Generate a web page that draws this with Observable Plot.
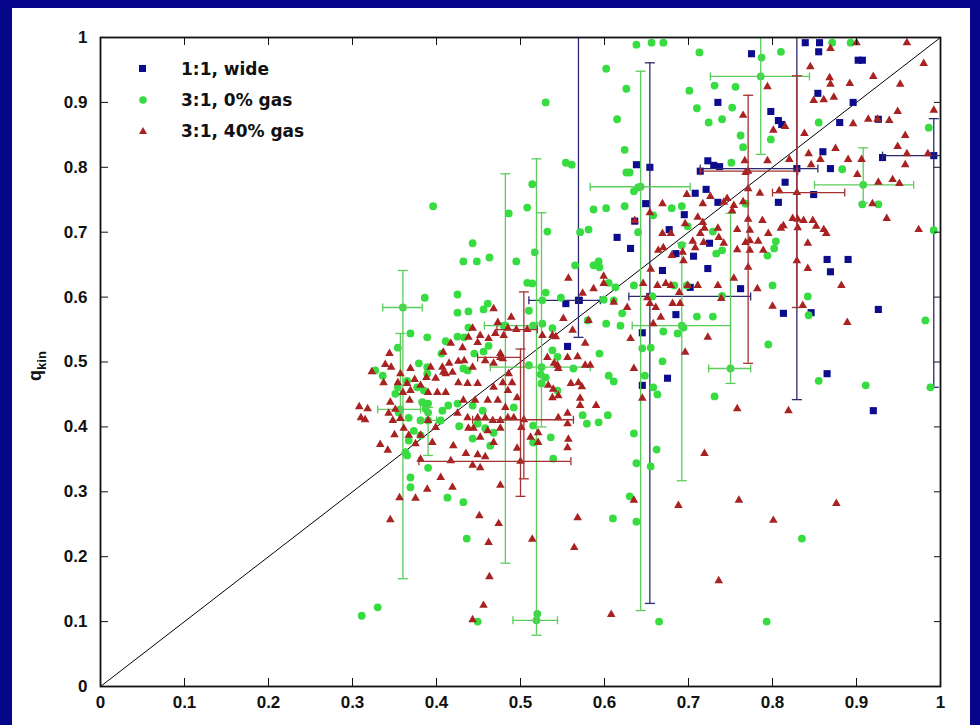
<!DOCTYPE html>
<html><head><meta charset="utf-8">
<script src="https://cdn.jsdelivr.net/npm/d3@7"></script>
<script src="https://cdn.jsdelivr.net/npm/@observablehq/plot@0.6"></script>
<style>
html,body{margin:0;padding:0;}
body{background:#06068a;width:980px;height:725px;overflow:hidden;position:relative;}
#panel{position:absolute;left:12px;top:8px;width:958px;height:717px;background:#fff;}
#legend{position:absolute;left:126px;top:46px;font:bold 17px 'DejaVu Sans',sans-serif;color:#111;}
#legend .row{position:relative;height:31px;line-height:31px;}
#legend svg{position:absolute;left:0;top:9px;}
#legend span{position:absolute;left:43px;top:0;white-space:nowrap;}
#ylab{position:absolute;left:25px;top:358px;transform:translate(-50%,-50%) rotate(-90deg);font:bold 18px 'Liberation Sans',Arial,sans-serif;white-space:nowrap;color:#111;}
#ylab sub{font-size:13px;}
</style></head>
<body><div id="panel"></div>
<script>
// ---- data ----
const xTicks = [0,0.1,0.2,0.3,0.4,0.5,0.6,0.7,0.8,0.9,1];
const yTicks = [0,0.1,0.2,0.3,0.4,0.5,0.6,0.7,0.8,0.9,1];
const seriesNames = ["1:1, wide", "3:1, 0% gas", "3:1, 40% gas"];
const diag = [0, 1];

const bluePts = [[0.839,0.992],[0.856,0.992],[0.775,0.975],[0.855,0.978],[0.902,0.965],[0.907,0.965],[0.854,0.914],[0.896,0.900],[0.735,0.900],[0.798,0.886],[0.807,0.872],[0.811,0.866],[0.880,0.869],[0.926,0.874],[0.860,0.824],[0.931,0.815],[0.723,0.810],[0.730,0.803],[0.737,0.801],[0.869,0.798],[0.638,0.804],[0.654,0.800],[0.714,0.794],[0.815,0.777],[0.708,0.760],[0.721,0.766],[0.849,0.758],[0.807,0.746],[0.649,0.744],[0.735,0.746],[0.695,0.727],[0.636,0.717],[0.677,0.704],[0.615,0.692],[0.631,0.675],[0.685,0.667],[0.706,0.663],[0.725,0.683],[0.723,0.644],[0.669,0.641],[0.762,0.613],[0.702,0.615],[0.865,0.658],[0.890,0.658],[0.869,0.639],[0.554,0.590],[0.570,0.595],[0.813,0.575],[0.846,0.576],[0.685,0.573],[0.926,0.581],[0.556,0.524],[0.645,0.545],[0.645,0.464],[0.675,0.475],[0.865,0.482],[0.920,0.425]];

const greenPts = [[0.530,0.900],[0.396,0.740],[0.514,0.774],[0.508,0.738],[0.486,0.729],[0.532,0.701],[0.443,0.683],
[0.432,0.655],[0.448,0.655],[0.463,0.661],[0.495,0.655],[0.517,0.669],[0.386,0.599],[0.425,0.604],[0.425,0.576],[0.438,0.578],[0.456,0.581],[0.461,0.590],[0.508,0.622],[0.514,0.621],[0.530,0.607],[0.510,0.579],[0.526,0.595],[0.580,0.564],[0.538,0.552],[0.526,0.559],[0.515,0.556],[0.538,0.518],[0.544,0.508],[0.510,0.495],[0.524,0.481],[0.530,0.476],[0.544,0.456],[0.525,0.467],[0.515,0.402],[0.536,0.384],[0.515,0.376],[0.369,0.307],[0.413,0.291],[0.539,0.351],
[0.369,0.544],[0.389,0.538],[0.411,0.532],[0.425,0.539],[0.433,0.538],[0.438,0.553],[0.456,0.516],[0.462,0.525],[0.354,0.522],[0.406,0.513],[0.379,0.498],[0.389,0.492],[0.389,0.482],[0.432,0.490],[0.437,0.487],[0.327,0.487],[0.354,0.461],[0.351,0.451],[0.365,0.471],[0.377,0.461],[0.385,0.456],[0.383,0.438],[0.390,0.436],[0.387,0.428],[0.390,0.422],[0.407,0.425],[0.414,0.433],[0.425,0.436],[0.443,0.433],[0.455,0.425],[0.355,0.422],[0.367,0.414],[0.381,0.410],[0.405,0.410],[0.427,0.401],[0.449,0.405],[0.458,0.398],[0.468,0.391],[0.492,0.430],[0.373,0.394],[0.381,0.387],[0.367,0.379],[0.363,0.361],[0.365,0.356],[0.443,0.382],[0.464,0.371],[0.390,0.337],[0.369,0.322],[0.480,0.556],[0.445,0.513],[0.336,0.479],
[0.432,0.284],[0.436,0.228],[0.311,0.109],[0.330,0.122],[0.449,0.100],[0.520,0.112],
[0.638,0.989],[0.656,0.992],[0.670,0.992],[0.713,0.977],[0.810,0.978],[0.787,0.969],[0.871,0.992],[0.893,0.992],[0.602,0.952],[0.626,0.921],[0.701,0.918],[0.731,0.926],[0.756,0.924],[0.710,0.891],[0.752,0.892],[0.615,0.874],[0.724,0.869],[0.740,0.874],[0.762,0.849],[0.765,0.831],[0.798,0.843],[0.624,0.827],[0.554,0.807],[0.561,0.804],[0.626,0.792],[0.630,0.792],[0.751,0.807],[0.635,0.763],[0.640,0.769],[0.587,0.735],[0.602,0.737],[0.624,0.740],[0.680,0.737],[0.692,0.740],[0.768,0.744],[0.571,0.700],[0.581,0.704],[0.640,0.700],[0.699,0.709],[0.729,0.701],[0.658,0.726],[0.804,0.686],[0.802,0.675],[0.794,0.664],[0.740,0.672],[0.733,0.667],[0.692,0.680],[0.565,0.649],[0.587,0.649],[0.593,0.655],[0.594,0.646],[0.605,0.622],[0.613,0.615],[0.635,0.618],[0.683,0.618],[0.698,0.618],[0.800,0.618],[0.740,0.602],[0.842,0.601],[0.657,0.601],[0.611,0.595],[0.599,0.596],[0.855,0.869],[0.883,0.797],[0.907,0.743],[0.926,0.743],[0.986,0.861],[0.992,0.703],[0.548,0.599],[0.843,0.572],
[0.563,0.490],[0.604,0.418],[0.593,0.407],[0.579,0.405],[0.574,0.418],[0.605,0.479],[0.611,0.470],[0.594,0.513],[0.619,0.556],[0.602,0.559],[0.670,0.547],[0.687,0.544],[0.694,0.553],[0.710,0.570],[0.729,0.570],[0.621,0.575],[0.645,0.521],[0.655,0.522],[0.669,0.501],[0.648,0.479],[0.658,0.461],[0.663,0.450],[0.731,0.447],[0.795,0.527],[0.855,0.471],[0.911,0.464],[0.982,0.564],[0.988,0.461],[0.635,0.390],[0.638,0.344],[0.655,0.339],[0.662,0.365],[0.630,0.293],[0.610,0.259],[0.638,0.254],[0.835,0.228],[0.665,0.100],[0.793,0.100]];

const redPts = [[0.323,0.485],[0.344,0.513],[0.339,0.496],[0.346,0.492],[0.337,0.468],[0.357,0.482],[0.369,0.490],[0.354,0.468],[0.365,0.467],[0.374,0.473],[0.381,0.464],[0.388,0.476],[0.399,0.475],[0.393,0.492],[0.407,0.492],[0.415,0.498],[0.408,0.484],[0.419,0.484],[0.426,0.501],[0.433,0.502],[0.443,0.492],[0.437,0.467],[0.449,0.467],[0.426,0.468],[0.401,0.453],[0.411,0.453],[0.390,0.453],[0.369,0.456],[0.360,0.453],[0.368,0.441],[0.345,0.438],[0.351,0.427],[0.357,0.413],[0.343,0.421],[0.348,0.410],[0.361,0.398],[0.350,0.388],[0.367,0.387],[0.375,0.374],[0.333,0.373],[0.342,0.364],[0.308,0.431],[0.318,0.428],[0.310,0.414],[0.315,0.411],[0.390,0.410],[0.399,0.399],[0.381,0.387],[0.395,0.376],[0.425,0.421],[0.437,0.414],[0.449,0.414],[0.458,0.414],[0.467,0.410],[0.476,0.410],[0.485,0.414],[0.492,0.414],[0.438,0.398],[0.444,0.398],[0.461,0.394],[0.476,0.398],[0.452,0.384],[0.468,0.376],[0.420,0.371],[0.435,0.359],[0.449,0.357],[0.458,0.354],[0.443,0.341],[0.452,0.337],[0.381,0.350],[0.417,0.348],[0.405,0.322],[0.432,0.441],[0.446,0.441],[0.461,0.441],[0.473,0.441],[0.482,0.430],[0.468,0.461],[0.479,0.468],[0.485,0.456],[0.496,0.445],[0.411,0.482],[0.449,0.530],[0.452,0.541],[0.462,0.536],[0.470,0.544],[0.480,0.541],[0.431,0.522],[0.438,0.538],[0.417,0.529],[0.408,0.515],[0.443,0.552],[0.473,0.561],[0.485,0.552],[0.476,0.513],[0.458,0.502],[0.468,0.498],[0.486,0.482],[0.479,0.505],[0.490,0.468],
[0.581,0.564],[0.551,0.567],[0.538,0.541],[0.489,0.569],[0.468,0.582],[0.508,0.550],[0.526,0.541],[0.542,0.539],[0.532,0.507],[0.544,0.495],[0.556,0.507],[0.577,0.495],[0.583,0.495],[0.539,0.458],[0.533,0.464],[0.538,0.445],[0.571,0.433],[0.556,0.405],[0.521,0.391],[0.512,0.384],[0.521,0.376],[0.501,0.399],[0.496,0.367],[0.476,0.310],[0.389,0.304],[0.419,0.307],
[0.356,0.291],[0.375,0.290],[0.345,0.257],[0.451,0.263],[0.474,0.251],[0.462,0.222],[0.514,0.227],[0.463,0.169],[0.456,0.125],[0.443,0.103],
[0.765,0.880],[0.801,0.857],[0.815,0.863],[0.838,0.852],[0.845,0.955],[0.868,0.938],[0.869,0.928],[0.892,0.929],[0.920,0.940],[0.952,0.928],[0.980,0.960],[0.960,0.992],[0.900,0.992],[0.869,0.983],[0.849,0.903],[0.861,0.904],[0.873,0.908],[0.794,0.924],[0.925,0.874],[0.914,0.874],[0.896,0.867],[0.939,0.872],[0.949,0.886],[0.992,0.888],[0.958,0.849],[0.949,0.832],[0.958,0.804],[0.985,0.821],[0.960,0.821],[0.906,0.812],[0.890,0.812],[0.875,0.829],[0.857,0.812],[0.846,0.804],[0.843,0.821],[0.820,0.812],[0.794,0.810],[0.767,0.810],[0.768,0.792],[0.746,0.752],[0.754,0.741],[0.765,0.747],[0.785,0.760],[0.808,0.764],[0.901,0.789],[0.919,0.744],[0.926,0.777],[0.943,0.781],[0.951,0.775],[0.936,0.721],[0.974,0.704],[0.698,0.758],[0.717,0.744],[0.726,0.755],[0.742,0.746],[0.752,0.733],[0.654,0.730],[0.669,0.744],[0.696,0.713],[0.711,0.723],[0.717,0.715],[0.719,0.706],[0.735,0.706],[0.705,0.686],[0.718,0.684],[0.736,0.692],[0.758,0.704],[0.771,0.720],[0.773,0.703],[0.783,0.686],[0.788,0.718],[0.795,0.698],[0.810,0.706],[0.813,0.710],[0.824,0.721],[0.830,0.720],[0.837,0.718],[0.848,0.718],[0.852,0.709],[0.861,0.704],[0.864,0.698],[0.830,0.707],[0.842,0.683],[0.789,0.672],[0.742,0.683],[0.758,0.673],[0.768,0.684],[0.636,0.718],[0.669,0.698],[0.679,0.698],[0.670,0.676],[0.664,0.672],[0.680,0.664],[0.693,0.669],[0.708,0.676],[0.694,0.656],[0.714,0.698],[0.679,0.618],[0.655,0.643],[0.663,0.618],[0.646,0.621],[0.651,0.599],[0.673,0.621],[0.689,0.607],[0.690,0.590],[0.699,0.618],[0.711,0.618],[0.735,0.618],[0.739,0.598],[0.754,0.629],[0.782,0.613],[0.800,0.586],[0.771,0.646],[0.773,0.687],[0.773,0.672],[0.829,0.656],[0.882,0.618],[0.836,0.587],[0.627,0.584],[0.654,0.590],[0.611,0.592],[0.599,0.632],[0.599,0.621],[0.587,0.613],[0.557,0.629],[0.574,0.606],[0.842,0.644],[0.771,0.767],
[0.661,0.584],[0.667,0.569],[0.658,0.559],[0.681,0.590],[0.696,0.515],[0.723,0.538],[0.889,0.561],[0.631,0.536],[0.635,0.490],[0.645,0.444],[0.758,0.428],[0.819,0.425],[0.719,0.359],[0.635,0.287],[0.688,0.279],[0.760,0.287],[0.876,0.282],[0.801,0.256],[0.568,0.260],[0.564,0.214],[0.736,0.163],[0.608,0.111],[0.562,0.549],[0.577,0.529],[0.568,0.508],[0.560,0.467],[0.569,0.468],[0.573,0.462],[0.545,0.448],[0.571,0.444],[0.590,0.433],[0.556,0.421],[0.545,0.414],[0.557,0.381],[0.556,0.368],[0.540,0.498],[0.545,0.490]];

// error bars: [x, y, xLow, xHigh, yLow, yHigh]
const blueBars = [[0.569,0.595,0.510,0.595,0.538,1.05],[0.654,0.601,0.629,0.774,0.128,0.961],[0.829,0.798,0.714,0.854,0.442,1.05],[0.992,0.818,0.931,1.05,0.461,0.875]];
const greenBars = [[0.360,0.584,0.336,0.383,0.166,0.641],[0.357,0.427,0.330,0.381,0.41,0.544],[0.390,0.41,0.381,0.400,0.356,0.43],[0.482,0.556,0.457,0.520,0.190,0.790],[0.519,0.102,0.491,0.544,0.079,0.813],[0.525,0.492,0.464,0.583,0.40,0.730],[0.643,0.770,0.583,0.702,0.117,0.948],[0.692,0.556,0.633,0.750,0.317,0.683],[0.750,0.490,0.724,0.774,0.467,0.729],[0.786,0.940,0.726,0.844,0.820,1.05],[0.908,0.773,0.850,0.968,0.745,0.830]];
const redBars = [[0.500,0.347,0.379,0.560,0.293,0.520],[0.504,0.411,0.443,0.563,0.320,0.608],[0.495,0.550,0.472,0.520,null,null],[0.476,0.507,0.449,0.500,null,null],[0.771,0.794,0.714,0.830,0.498,0.911],[0.829,0.761,0.800,0.886,0.584,0.941]];

// ---- styles ----
const C = {blue:"#0c0c8c", green:"#36dc40", red:"#a82222", blueBar:"#2a2a70", greenBar:"#5ccc5c", redBar:"#a43030"};
const pt = p => ({x:p[0], y:p[1]});
const bar = b => ({x:b[0], y:b[1], xlo:b[2], xhi:b[3], ylo:b[4], yhi:b[5]});
const hcap = {draw(c){c.moveTo(-5,0);c.lineTo(5,0);}};
const vcap = {draw(c){c.moveTo(0,-4);c.lineTo(0,4);}};
const fmt = d => String(+d.toFixed(1));

function barMarks(data, color){
  const b = data.map(bar);
  const o = {stroke:color, strokeWidth:1.3, clip:true};
  return [
    Plot.ruleX(b, {x:"x", y1:"ylo", y2:"yhi", ...o}),
    Plot.ruleY(b, {y:"y", x1:"xlo", x2:"xhi", ...o}),
    Plot.dot(b, {x:"x", y:"ylo", symbol:hcap, fill:"none", ...o}),
    Plot.dot(b, {x:"x", y:"yhi", symbol:hcap, fill:"none", ...o}),
    Plot.dot(b, {x:"xlo", y:"y", symbol:vcap, fill:"none", ...o}),
    Plot.dot(b, {x:"xhi", y:"y", symbol:vcap, fill:"none", ...o})
  ];
}

const chart = Plot.plot({
  width: 958, height: 717,
  marginLeft: 88, marginRight: 30, marginTop: 29, marginBottom: 39,
  x: {domain:[0,1]}, y: {domain:[0,1]},
  style: {fontFamily:"'Liberation Sans', Arial, sans-serif", fontSize:"17px", fontWeight:"bold", color:"#111", background:"transparent", overflow:"visible"},
  marks: [
    Plot.line(diag, {x:d=>d, y:d=>d, stroke:"#000", strokeWidth:1}),
    Plot.dot(bluePts.map(pt), {x:"x", y:"y", symbol:"square", r:4, fill:C.blue, clip:true}),
    Plot.dot(blueBars.map(bar), {x:"x", y:"y", symbol:"square", r:4, fill:C.blue}),
    ...barMarks(blueBars, C.blueBar),
    Plot.dot(greenPts.map(pt), {x:"x", y:"y", symbol:"circle", r:3.9, fill:C.green}),
    Plot.dot(greenBars.map(bar), {x:"x", y:"y", symbol:"circle", r:3.9, fill:C.green}),
    ...barMarks(greenBars, C.greenBar),
    Plot.dot(redPts.map(pt), {x:"x", y:"y", symbol:"triangle", r:3.2, fill:C.red}),
    Plot.dot(redBars.map(bar), {x:"x", y:"y", symbol:"triangle", r:3.2, fill:C.red}),
    ...barMarks(redBars, C.redBar),
    Plot.axisX({anchor:"bottom", ticks:xTicks, tickSize:0, tickPadding:9, tickFormat:fmt, label:null}),
    Plot.axisY({anchor:"left", ticks:yTicks, tickSize:0, tickPadding:13, tickFormat:fmt, label:null}),
    Plot.axisX({anchor:"bottom", ticks:xTicks, tickSize:-8, tickFormat:()=>"", label:null, stroke:"#111"}),
    Plot.axisX({anchor:"top", ticks:xTicks, tickSize:-7, tickFormat:()=>"", label:null, stroke:"#111"}),
    Plot.axisY({anchor:"left", ticks:yTicks, tickSize:-8, tickFormat:()=>"", label:null, stroke:"#111"}),
    Plot.axisY({anchor:"right", ticks:yTicks, tickSize:-7, tickFormat:()=>"", label:null, stroke:"#111"}),
    Plot.frame({stroke:"#111", strokeWidth:1.8})
  ]
});
const panel = document.getElementById("panel");
panel.appendChild(chart);

// legend (HTML, inside the axes box)
const legendSyms = [
  `<svg width="10" height="12"><rect x="1" y="2" width="7" height="7" fill="${C.blue}"/></svg>`,
  `<svg width="10" height="12"><circle cx="5" cy="6" r="3.8" fill="${C.green}"/></svg>`,
  `<svg width="10" height="12"><path d="M5,2 L9,9 L1,9 Z" fill="${C.red}"/></svg>`
];
const lg = document.createElement("div");
lg.id = "legend";
lg.innerHTML = seriesNames.map((n,i)=>`<div class="row">${legendSyms[i]}<span>${n}</span></div>`).join("");
panel.appendChild(lg);

const yl = document.createElement("div");
yl.id = "ylab";
yl.innerHTML = "q<sub>kin</sub>";
panel.appendChild(yl);
</script>
</body></html>
